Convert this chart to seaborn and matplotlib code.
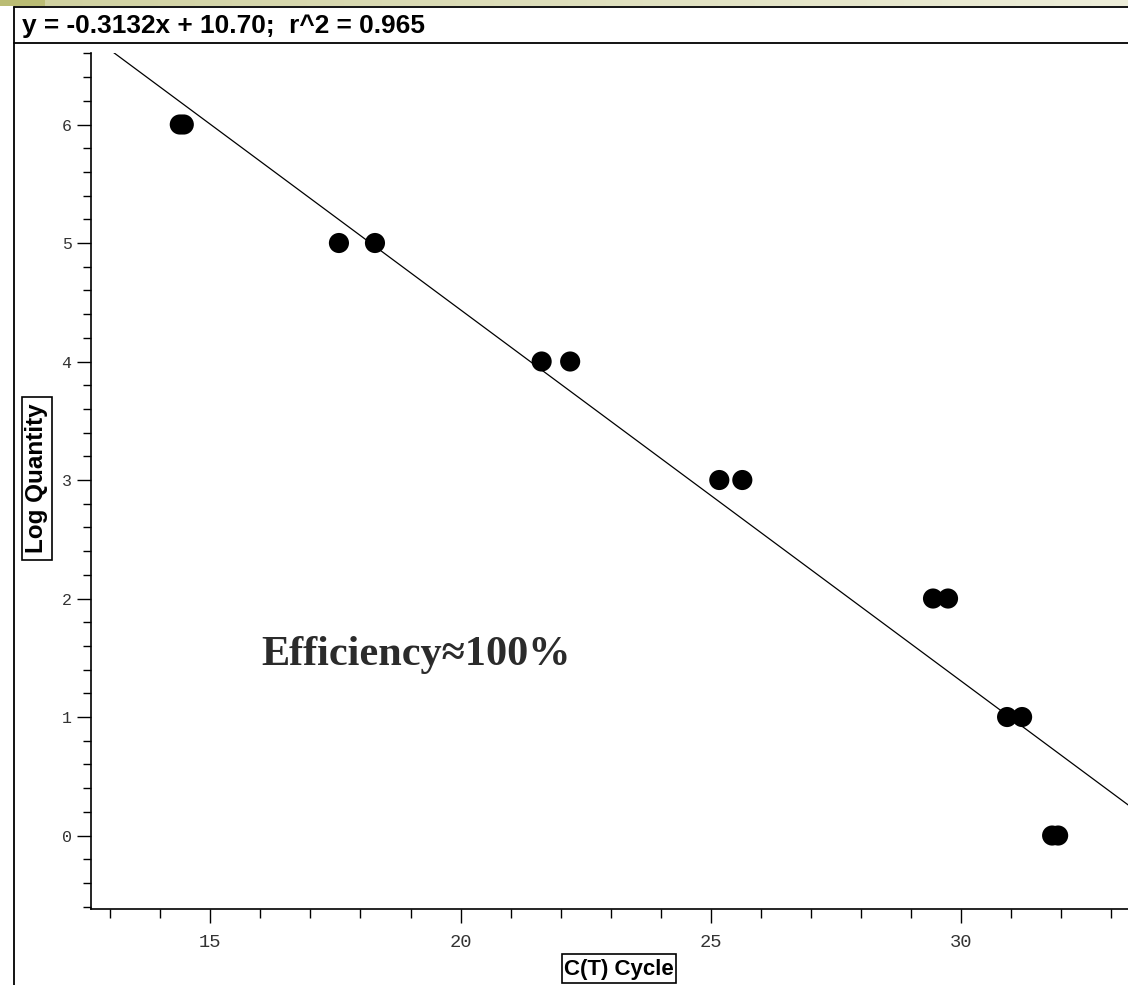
import numpy as np
import pandas as pd
import matplotlib
matplotlib.use("Agg")
import matplotlib.pyplot as plt
import seaborn as sns
from matplotlib.lines import Line2D
from matplotlib.patches import Rectangle
from matplotlib.ticker import MultipleLocator, FixedLocator

# Standard curve: threshold cycle vs. log of template quantity
ct_cycle = [14.39, 14.47, 17.57, 18.29, 21.62, 22.19, 25.17, 25.63,
            29.44, 29.74, 30.92, 31.22, 31.82, 31.94]
log_quantity = [6, 6, 5, 5, 4, 4, 3, 3, 2, 2, 1, 1, 0, 0]

# Fitted regression reported in the header
slope = -0.3132
intercept = 10.70
r_squared = 0.965

x_ticks = [15, 20, 25, 30]
y_ticks = [0, 1, 2, 3, 4, 5, 6]

header_text = f"y = {slope:.4f}x + {intercept:.2f};  r^2 = {r_squared:.3f}"
efficiency_text = "Efficiency\u2248100%"
x_label = "C(T) Cycle"
y_label = "Log Quantity"

sns.set_style("white")
plt.rcParams["font.family"] = ["Liberation Sans", "DejaVu Sans"]

W, H = 1128, 985
fig = plt.figure(figsize=(W / 100, H / 100), dpi=100)
fig.patch.set_facecolor("white")


def fx(px):
    return px / W


def fy(py):
    return 1 - py / H


# Decorative khaki strip along the top edge
strip = np.zeros((1, W, 3))
cols = np.arange(W)
left_part = cols < 45
c0 = np.array([186, 188, 116]) / 255
c1 = np.array([208, 209, 160]) / 255
c2 = np.array([238, 238, 218]) / 255
tt = np.clip((cols - 45) / (W - 45), 0, 1)[:, None]
strip[0] = np.where(left_part[:, None], c0, c1 * (1 - tt) + c2 * tt)
ax_strip = fig.add_axes([0, fy(6), 1, 6 / H])
ax_strip.imshow(strip, aspect="auto", interpolation="bilinear")
ax_strip.set_axis_off()

# Window frame and header separator
frame_kw = dict(color="black", lw=1.3, transform=fig.transFigure)
fig.add_artist(Line2D([fx(14), fx(14)], [fy(7), 0], **frame_kw))
fig.add_artist(Line2D([fx(14), 1], [fy(7), fy(7)], **frame_kw))
fig.add_artist(Line2D([fx(14), 1], [fy(43.3), fy(43.3)], **frame_kw))

# Main plotting area
ax = fig.add_axes([fx(91), fy(909), 1 - fx(91), (909 - 53.4) / H])
df = pd.DataFrame({"ct": ct_cycle, "logq": log_quantity})
sns.scatterplot(data=df, x="ct", y="logq", color="black", s=210,
                edgecolor="none", linewidth=0, legend=False, ax=ax, zorder=3)

xs = np.array([10.0, 36.0])
fit = pd.DataFrame({"ct": xs, "logq": slope * xs + intercept})
sns.lineplot(data=fit, x="ct", y="logq", color="black", lw=0.9, ax=ax, zorder=2)

ax.set_xlim(12.616, 33.336)
ax.set_ylim(-0.62, 6.6)
ax.set_xlabel("")
ax.set_ylabel("")

for side in ("top", "right"):
    ax.spines[side].set_visible(False)
for side in ("left", "bottom"):
    ax.spines[side].set_color("black")
    ax.spines[side].set_linewidth(1.2)

ax.xaxis.set_major_locator(FixedLocator(x_ticks))
ax.yaxis.set_major_locator(FixedLocator(y_ticks))
ax.xaxis.set_minor_locator(MultipleLocator(1))
ax.yaxis.set_minor_locator(MultipleLocator(0.2))
ax.set_xticklabels([str(v) for v in x_ticks])
ax.set_yticklabels([str(v) for v in y_ticks])

ax.tick_params(which="both", bottom=True, left=True, top=False, right=False,
               direction="out", color="black", width=1.0)
ax.tick_params(axis="x", which="major", length=10, pad=8,
               labelsize=13.5, labelcolor="#333333")
ax.tick_params(axis="x", which="minor", length=6.3)
ax.tick_params(axis="y", which="major", length=10, pad=4,
               labelsize=12, labelcolor="#333333")
ax.tick_params(axis="y", which="minor", length=5.8)
for lab in ax.get_xticklabels() + ax.get_yticklabels():
    lab.set_fontfamily(["Liberation Mono", "DejaVu Sans Mono"])

# Header equation
header = fig.text(fx(22), fy(33), header_text, ha="left", va="baseline",
                  fontsize=15, fontweight="bold", color="black")

# Annotation inside the plot
eff = fig.text(fx(261), fy(665), efficiency_text, ha="left", va="baseline",
               fontsize=30.5, fontweight="bold", color="#2b2b2b",
               family=["Liberation Serif", "DejaVu Serif"])

# Boxed axis titles
xl = fig.text(fx(619), fy(969), x_label, ha="center", va="center",
              fontsize=15.5, fontweight="bold", color="black")
yl = fig.text(fx(37), fy(478), y_label, ha="center", va="center",
              rotation=90, fontsize=17, fontweight="bold", color="black")

renderer = fig.canvas.get_renderer()


def fit_width(t, target, vertical=False):
    bb = t.get_window_extent(renderer=renderer)
    size = bb.height if vertical else bb.width
    t.set_fontsize(t.get_fontsize() * target / size)


fit_width(header, 403)
fit_width(eff, 309)
fit_width(xl, 110)
fit_width(yl, 150, vertical=True)

box_kw = dict(fill=False, edgecolor="black", lw=1.2, transform=fig.transFigure)
fig.add_artist(Rectangle((fx(562), fy(983)), (676 - 562) / W, (983 - 954) / H, **box_kw))
fig.add_artist(Rectangle((fx(22), fy(560)), (52 - 22) / W, (560 - 397) / H, **box_kw))

fig.savefig("out.png", dpi=100)
